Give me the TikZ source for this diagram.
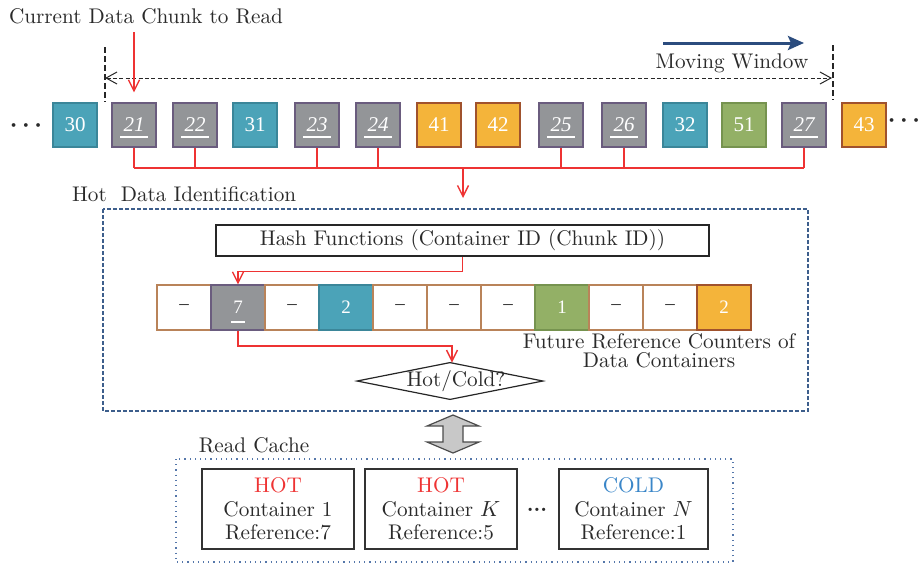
\documentclass[tikz,border=0pt]{standalone}
\usepackage{fontspec}
\newfontfamily\numfont{Liberation Serif}
\usetikzlibrary{arrows.meta,shapes.geometric,calc}
\definecolor{cTeal}{HTML}{4BA3B8}
\definecolor{cTealB}{HTML}{3B8699}
\definecolor{cGray}{HTML}{939598}
\definecolor{cGrayB}{HTML}{6A5C7E}
\definecolor{cOrange}{HTML}{F4B43A}
\definecolor{cOrangeB}{HTML}{A0522D}
\definecolor{cGreen}{HTML}{93B066}
\definecolor{cGreenB}{HTML}{76934F}
\definecolor{cRed}{HTML}{EE3333}
\definecolor{cBlue}{HTML}{2B4C7E}
\definecolor{cDash}{HTML}{3D5E8C}
\definecolor{cDot}{HTML}{5577AA}
\definecolor{cCell}{HTML}{B98359}
\definecolor{cCold}{HTML}{3A86C8}
\definecolor{cText}{HTML}{2A2A2A}
\definecolor{cArr}{HTML}{C8C8C8}
\tikzset{
  base/.style={font=\fontsize{10.6}{12.7}\selectfont, text=cText},
  chunk/.style={minimum width=22pt, minimum height=22pt, inner sep=0pt, line width=0.6pt,
    font=\numfont\fontsize{10.5}{12}\selectfont, text=white},
  tchunk/.style={chunk, fill=cTeal, draw=cTealB},
  gchunk/.style={chunk, fill=cGray, draw=cGrayB, font=\numfont\itshape\fontsize{10.5}{12}\selectfont},
  ochunk/.style={chunk, fill=cOrange, draw=cOrangeB},
  grchunk/.style={chunk, fill=cGreen, draw=cGreenB},
  cell/.style={minimum width=27pt, minimum height=22.5pt, inner sep=0pt, line width=0.6pt,
    font=\numfont\fontsize{9.5}{11}\selectfont},
  wcell/.style={cell, fill=white, draw=cCell, text=cText},
  gcell/.style={cell, fill=cGray, draw=cGrayB, text=white},
  tcell/.style={cell, fill=cTeal, draw=cTealB, text=white},
  grcell/.style={cell, fill=cGreen, draw=cGreenB, text=white},
  ocell/.style={cell, fill=cOrange, draw=cOrangeB, text=white},
  redline/.style={draw=cRed, line width=0.7pt},
  redarrow/.style={redline, -{Straight Barb[length=5.5pt,width=5.5pt]}},
  cachebox/.style={base, draw=black!80, line width=0.7pt, minimum height=40pt, inner sep=0pt,
    align=center, font=\fontsize{10.6}{11.75}\selectfont},
  dots/.style={text=cText, inner sep=0pt, font=\fontsize{11.5}{13}\selectfont\boldmath},
}
\begin{document}
\begin{tikzpicture}[x=0.5pt,y=-0.5pt]
\useasboundingbox (0,0) rectangle (919,563);

% top labels
\node[base] (cur) at (146,16) {Current Data Chunk to Read};
\node[base] (mw) at (732,63) {Moving Window};
\coordinate (blueL) at (663,43);
\coordinate (blueR) at (804,43);
\draw[draw=cBlue, line width=1.5pt, -{Stealth[length=8pt,width=7pt,inset=1.5pt]}] (blueL) -- (blueR);

% window
\coordinate (vL1) at (105,47); \coordinate (vL2) at (105,102);
\coordinate (vR1) at (833,45); \coordinate (vR2) at (833,100);
\draw[black!85, line width=0.8pt, dash pattern=on 3pt off 1.5pt] (vL1) -- (vL2);
\draw[black!85, line width=0.8pt, dash pattern=on 3pt off 1.5pt] (vR1) -- (vR2);
\coordinate (wL) at (105,78); \coordinate (wR) at (832,78);
\draw[black!85, line width=0.5pt, dash pattern=on 2pt off 1.2pt,
  {Straight Barb[length=5.5pt,width=6pt]}-{Straight Barb[length=5.5pt,width=6pt]}] (wL) -- (wR);

% chunks
\node[dots] (dl) at (26,126) {$\cdots$};
\node[dots] (dr) at (904,121) {$\cdots$};
\foreach \n/\x/\s in {30/75/tchunk,21/134/gchunk,22/195/gchunk,31/255/tchunk,23/317/gchunk,
  24/378/gchunk,41/439/ochunk,42/498/ochunk,25/561/gchunk,26/624/gchunk,32/685/tchunk,
  51/744/grchunk,27/804/gchunk,43/864/ochunk}
  \node[\s] (c\n) at (\x,125) {\n};

\coordinate (curS) at (134,32);
\draw[redarrow] (curS) -- ([yshift=5pt]c21.north);

\coordinate (busL) at (134,168);
\coordinate (busR) at (804,168);
\foreach \n in {21,22,23,24,25,26,27}{
  \draw[white, line width=0.8pt] ([xshift=-7pt,yshift=-6pt]c\n.center) -- ++(28,0);
  \draw[redline] (c\n.south) -- (c\n.south |- busL);
}
\draw[redline] (busL) -- (busR);
\coordinate (busM) at (463,168);
\coordinate (hdT) at (463,198);
\draw[redarrow] (busM) -- (hdT);

% hot data identification
\node[base, anchor=west] (hdi) at (65,194) {Hot\ \ Data Identification};
\draw[draw=cDash, line width=0.6pt, dash pattern=on 2pt off 1pt] (103,209) rectangle (808,411);
\node[base, draw=black!85, line width=0.6pt, minimum width=246.5pt, minimum height=15.5pt, inner sep=0pt]
  (hash) at (462.5,240.5) {Hash Functions (Container ID (Chunk ID))};

\foreach \i/\s/\t in {1/wcell/–,2/gcell/7,3/wcell/–,4/tcell/2,5/wcell/–,6/wcell/–,
  7/wcell/–,8/grcell/1,9/wcell/–,10/wcell/–,11/ocell/2}
  \node[\s] (k\i) at ({130+54*\i},307.5) {\raisebox{-2.3pt}{\t}};
\draw[white, line width=0.7pt] ([xshift=-3.5pt,yshift=-7.25pt]k2.center) -- ++(14,0);

\draw[redarrow] (hash.south) -- ++(0,15) -| (k2.north);

\node[base, inner sep=0pt, minimum width=92.5pt, minimum height=18pt] (dia) at (450,381) {\hspace{6pt}Hot/Cold?};
\draw[black!85, line width=0.6pt] (dia.west) -- (dia.north) -- (dia.east) -- (dia.south) -- cycle;
\coordinate (turn) at (452,346);
\draw[redarrow] (k2.south) |- (turn) -- (turn |- dia.north);

\node[base, align=center, font=\fontsize{10.6}{9.6}\selectfont] (frc) at (659,351)
  {Future Reference Counters of\\Data Containers};

% double arrow
\draw[fill=cArr, draw=black!70, line width=0.6pt]
  (453,415) -- (479,426) -- (463,426) -- (463,442) -- (479,442) -- (453,453)
  -- (427,442) -- (443,442) -- (443,426) -- (427,426) -- cycle;

% read cache
\node[base] (rc) at (254,445) {Read Cache};
\draw[draw=cDot, line width=0.6pt, dotted] (176,459) rectangle (733,562);
\node[cachebox, minimum width=76pt] (b1) at (278,509)
  {\textcolor{cRed}{HOT}\\Container 1\\Reference:7};
\node[cachebox, minimum width=76pt] (b2) at (441,509)
  {\textcolor{cRed}{HOT}\\Container $K$\\Reference:5};
\node[base] (bd) at (537,510) {\textbf{...}};
\node[cachebox, minimum width=74.5pt] (b3) at (633.5,509)
  {\textcolor{cCold}{COLD}\\Container $N$\\Reference:1};
\end{tikzpicture}
\end{document}
